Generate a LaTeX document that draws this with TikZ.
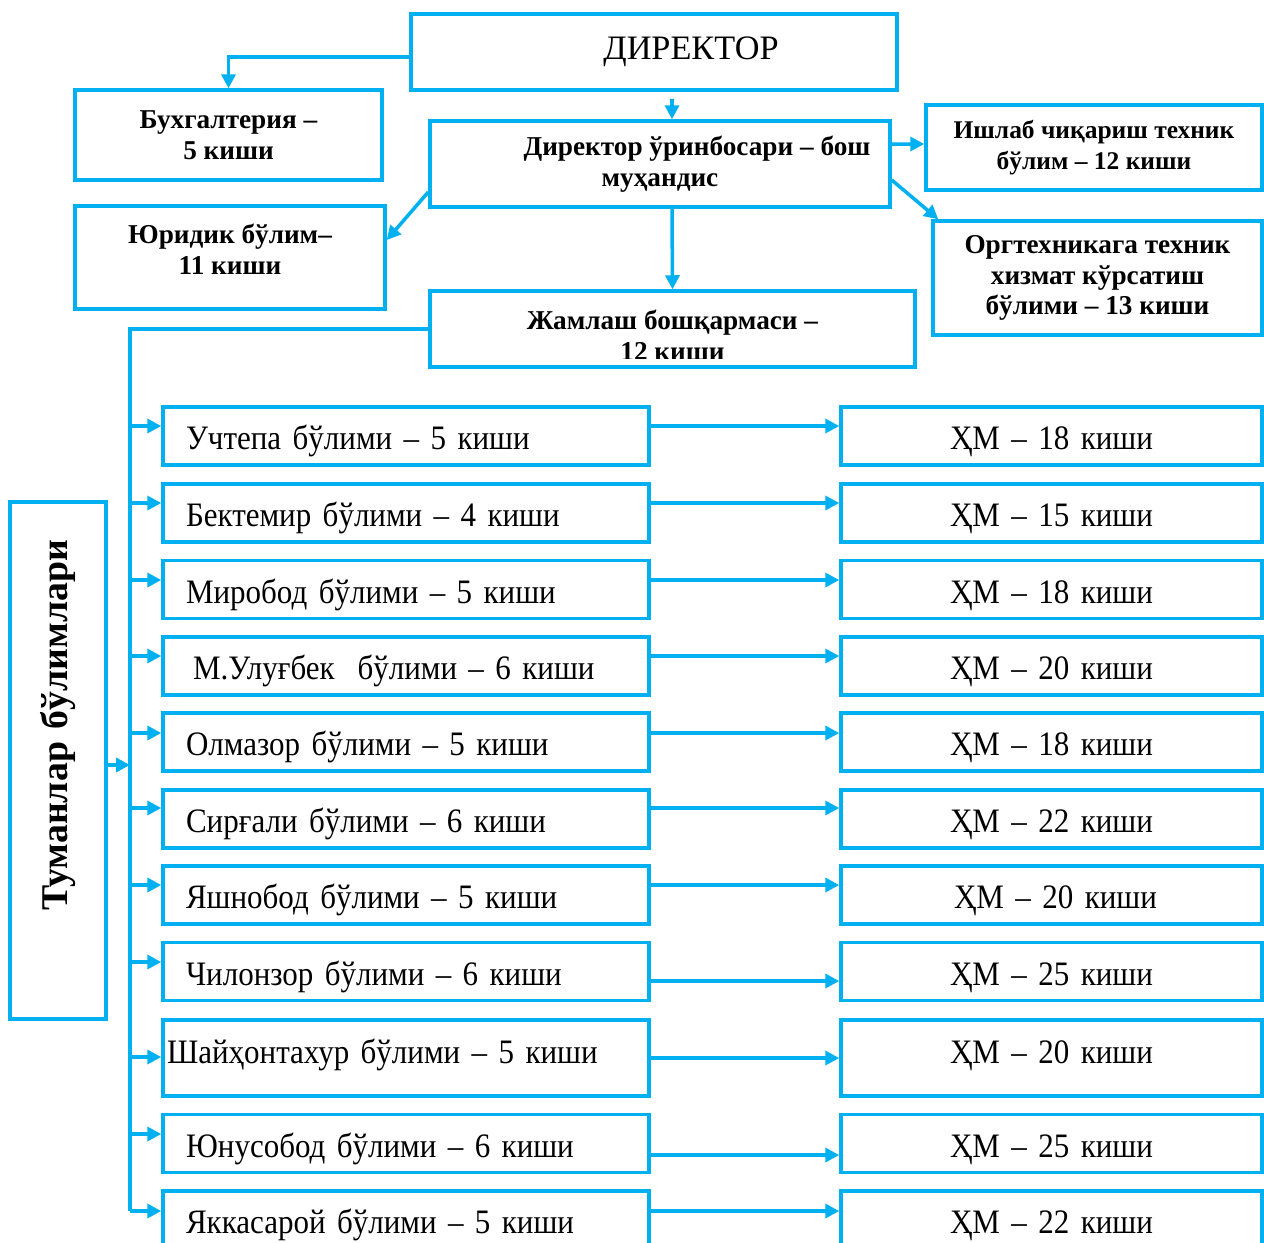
\documentclass[tikz,border=0pt]{standalone}
\usepackage{fontspec}
\setmainfont{Liberation Serif}
\newfontfamily\rowfont{Liberation Serif}[FakeStretch=0.905, WordSpace=0.65]
\usetikzlibrary{arrows.meta}
\definecolor{lineblue}{RGB}{0,176,240}

\begin{document}
\begin{tikzpicture}[x=0.02cm, y=-0.02cm,
  frame/.style={draw=lineblue, line width=2pt, rectangle, inner sep=0pt},
  head/.style={font=\fontsize{15.5}{17.6}\selectfont\bfseries, align=center},
  unit/.style={frame, minimum width=9.72cm, minimum height=1.16cm, text width=8.8cm, inner xsep=0.46cm, align=left, text height=0.69cm, text depth=0.15cm, font=\rowfont\fontsize{19.5}{23}\selectfont},
  hm/.style={frame, minimum width=8.42cm, minimum height=1.16cm, text width=8.2cm, align=center, text height=0.69cm, text depth=0.15cm, font=\rowfont\fontsize{19.5}{23}\selectfont},
  link/.style={draw=lineblue, line width=2pt, -{Triangle[length=0.28cm,width=0.28cm]}},
  wire/.style={draw=lineblue, line width=2pt}]
\clip (0,0) rectangle (1264,1242);

% Director and deputy
\node[frame, minimum width=9.72cm, minimum height=1.52cm, font=\fontsize{19.5}{23}\selectfont] (dir) at (654,52) {\hspace*{1.48cm}ДИРЕКТОР};
\node[frame, head, minimum width=9.2cm, minimum height=1.72cm] (dep) at (660,164) {\hspace*{1.48cm}Директор ўринбосари – бош\\муҳандис};

% Departments
\node[frame, head, minimum width=6.14cm, minimum height=1.8cm] (buh) at (228.5,135) {Бухгалтерия –\\5 киши};
\node[frame, head, minimum width=6.2cm, minimum height=2.06cm, text depth=0.32cm] (yur) at (230,257.5) {Юридик бўлим–\\11 киши};
\node[frame, head, minimum width=6.72cm, minimum height=1.7cm, font=\fontsize{14.5}{17.6}\selectfont\bfseries] (ish) at (1094,147.5) {Ишлаб чиқариш техник\\бўлим – 12 киши};
\node[frame, head, minimum width=6.58cm, minimum height=2.28cm, text depth=0.12cm] (org) at (1097.5,278) {Оргтехникага техник\\хизмат кўрсатиш\\бўлими – 13 киши};
\node[frame, minimum width=9.7cm, minimum height=1.52cm] (jam) at (672.5,329) {};
\begin{scope}
  \clip (jam.north west) rectangle ([yshift=0.2cm]jam.south east);
  \node[head] (jamtxt) at ([yshift=-0.13cm]jam.center) {Жамлаш бошқармаси –\\12 киши};
\end{scope}

\draw[link] ([yshift=-0.1cm]dir.west) -| (buh.north);
\draw[link] ([xshift=0.36cm,yshift=-0.14cm]dir.south) -- ([xshift=0.24cm]dep.north);
\draw[link] ([yshift=-0.56cm]dep.west) -- ([yshift=0.35cm]yur.east);
\draw[link] ([yshift=0.4cm]dep.east) -- ([yshift=0.07cm]ish.west);
\draw[link] ([yshift=-0.32cm]dep.east) -- ([xshift=0.14cm]org.north west);
\draw[link] ([xshift=0.24cm]dep.south) -- (jam.north);

% District units
\node[frame, rotate=90, minimum width=10.34cm, minimum height=1.92cm, text width=8.82cm, inner xsep=0.76cm, align=right, font=\fontsize{21.5}{26}\selectfont\bfseries] (tum) at (58,760.5) {Туманлар бўлимлари};

\node[unit] (d1) at (406,436) {Учтепа бўлими – 5 киши};
\node[hm] (h1) at (1051.5,436) {ҲМ – 18 киши};
\node[unit] (d2) at (406,513) {Бектемир бўлими – 4 киши};
\node[hm] (h2) at (1051.5,513) {ҲМ – 15 киши};
\node[unit] (d3) at (406,589.5) {Миробод бўлими – 5 киши};
\node[hm] (h3) at (1051.5,589.5) {ҲМ – 18 киши};
\node[unit] (d4) at (406,666) {\hspace*{0.14cm}М.Улуғбек\ \ бўлими – 6 киши};
\node[hm] (h4) at (1051.5,666) {ҲМ – 20 киши};
\node[unit] (d5) at (406,742) {Олмазор бўлими – 5 киши};
\node[hm] (h5) at (1051.5,742) {ҲМ – 18 киши};
\node[unit] (d6) at (406,819) {Сирғали бўлими – 6 киши};
\node[hm] (h6) at (1051.5,819) {ҲМ – 22 киши};
\node[unit] (d7) at (406,895) {Яшнобод бўлими – 5 киши};
\node[hm] (h7) at (1051.5,895) {\hspace*{0.16cm}ҲМ – 20 киши};
\node[unit] (d8) at (406,971.5) {Чилонзор бўлими – 6 киши};
\node[hm] (h8) at (1051.5,971.5) {ҲМ – 25 киши};
\node[unit, minimum height=1.52cm, text height=0.49cm, text depth=0.29cm] (d9) at (406,1058) {\hspace*{-0.38cm}Шайҳонтахур бўлими – 5 киши};
\node[hm, minimum height=1.52cm, text height=0.49cm, text depth=0.29cm] (h9) at (1051.5,1058) {ҲМ – 20 киши};
\node[unit] (d10) at (406,1143.5) {Юнусобод бўлими – 6 киши};
\node[hm] (h10) at (1051.5,1143.5) {ҲМ – 25 киши};
\node[unit] (d11) at (406,1220) {Яккасарой бўлими – 5 киши};
\node[hm] (h11) at (1051.5,1220) {ҲМ – 22 киши};

% Trunk line
\coordinate (t1) at (130,426);
\coordinate (t2) at (130,503);
\coordinate (t3) at (130,580);
\coordinate (t4) at (130,656);
\coordinate (t5) at (130,733);
\coordinate (t6) at (130,808);
\coordinate (t7) at (130,885);
\coordinate (t8) at (130,962);
\coordinate (t9) at (130,1057);
\coordinate (t10) at (130,1134);
\coordinate (t11) at (130,1211);
\coordinate (tt) at (130,765);
\draw[wire] (jam.west) -| (t11);
\draw[link] (tt -| tum.south) -- (tt);

\draw[link] (t1) -- (t1 -| d1.west);
\draw[link] (t2) -- (t2 -| d2.west);
\draw[link] (t3) -- (t3 -| d3.west);
\draw[link] (t4) -- (t4 -| d4.west);
\draw[link] (t5) -- (t5 -| d5.west);
\draw[link] (t6) -- (t6 -| d6.west);
\draw[link] (t7) -- (t7 -| d7.west);
\draw[link] (t8) -- (t8 -| d8.west);
\draw[link] (t9) -- (t9 -| d9.west);
\draw[link] (t10) -- (t10 -| d10.west);
\draw[link] (t11) -- (t11 -| d11.west);

% Units to HM
\draw[link] ([yshift=0.2cm]d1.east) -- ([yshift=0.2cm]h1.west);
\draw[link] ([yshift=0.2cm]d2.east) -- ([yshift=0.2cm]h2.west);
\draw[link] ([yshift=0.19cm]d3.east) -- ([yshift=0.19cm]h3.west);
\draw[link] ([yshift=0.2cm]d4.east) -- ([yshift=0.2cm]h4.west);
\draw[link] ([yshift=0.18cm]d5.east) -- ([yshift=0.18cm]h5.west);
\draw[link] ([yshift=0.22cm]d6.east) -- ([yshift=0.22cm]h6.west);
\draw[link] ([yshift=0.2cm]d7.east) -- ([yshift=0.2cm]h7.west);
\draw[link] ([yshift=-0.19cm]d8.east) -- ([yshift=-0.19cm]h8.west);
\draw[link] (d9.east) -- (h9.west);
\draw[link] ([yshift=-0.23cm]d10.east) -- ([yshift=-0.23cm]h10.west);
\draw[link] ([yshift=0.18cm]d11.east) -- ([yshift=0.18cm]h11.west);
\end{tikzpicture}
\end{document}
